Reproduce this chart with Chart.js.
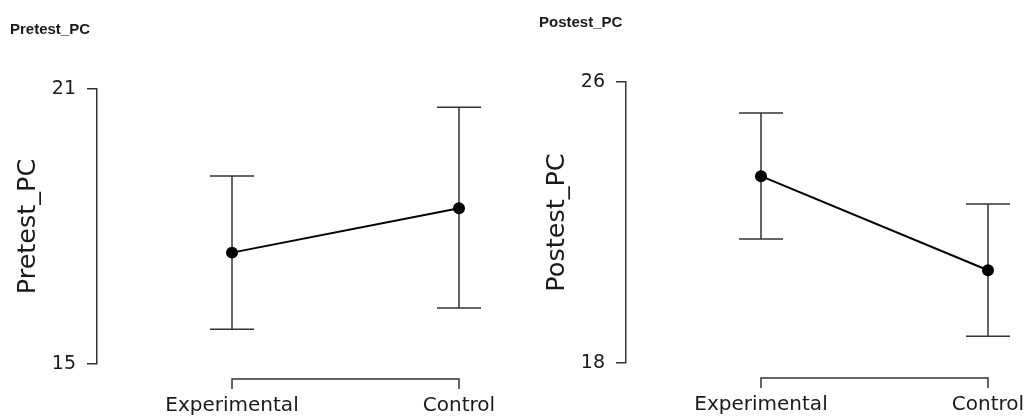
<!DOCTYPE html>
<html>
<head>
<meta charset="utf-8">
<script src="https://cdn.jsdelivr.net/npm/chart.js@4/dist/chart.umd.min.js"></script>
<style>
  html, body { margin: 0; padding: 0; background: #ffffff; }
  #wrap { position: relative; width: 1026px; height: 417px; overflow: hidden; }
  canvas { position: absolute; top: 0; }
  #c1 { left: 0; }
  #c2 { left: 513px; }
</style>
</head>
<body>
<div id="wrap">
  <canvas id="c1" width="513" height="417"></canvas>
  <canvas id="c2" width="513" height="417"></canvas>
</div>
<script>
// ---- data ----
const categories = ["Experimental", "Control"];

const pretestTitle = "Pretest_PC";
const pretestMean  = [17.43, 18.40];
const pretestLower = [15.76, 16.22];
const pretestUpper = [19.10, 20.60];
const pretestTicks = [15, 21];

const postestTitle = "Postest_PC";
const postestMean  = [23.32, 20.64];
const postestLower = [21.53, 18.76];
const postestUpper = [25.12, 22.53];
const postestTicks = [18, 26];

// ---- style ----
const INK = "#1a1a1a";
const AXIS = "#333333";

const errorBarPlugin = {
  id: "errorBars",
  beforeDatasetsDraw(chart, args, opts) {
    const { ctx } = chart;
    const xs = chart.scales.x, ys = chart.scales.y;
    ctx.save();
    ctx.strokeStyle = AXIS;
    ctx.lineWidth = 1.5;
    opts.lower.forEach((lo, i) => {
      const x = xs.getPixelForValue(i);
      const yl = ys.getPixelForValue(lo);
      const yu = ys.getPixelForValue(opts.upper[i]);
      const w = opts.capHalf;
      ctx.beginPath();
      ctx.moveTo(x, yl); ctx.lineTo(x, yu);
      ctx.moveTo(x - w, yl); ctx.lineTo(x + w, yl);
      ctx.moveTo(x - w, yu); ctx.lineTo(x + w, yu);
      ctx.stroke();
    });
    ctx.restore();
  },
  afterDraw(chart, args, opts) {
    // bracket-style x axis between first and last category
    const { ctx, chartArea } = chart;
    const xs = chart.scales.x;
    const x0 = xs.getPixelForValue(0);
    const x1 = xs.getPixelForValue(categories.length - 1);
    const y = chartArea.bottom + 15;
    ctx.save();
    ctx.strokeStyle = AXIS;
    ctx.lineWidth = 1.5;
    ctx.beginPath();
    ctx.moveTo(x0, y + 10); ctx.lineTo(x0, y); ctx.lineTo(x1, y); ctx.lineTo(x1, y + 10);
    ctx.stroke();
    ctx.restore();
  }
};

function makeChart(id, cfg) {
  const pxPerUnit = 227;
  const firstOffset = 135;          // distance from y axis to first category
  const canvasW = 513;
  const padLeft = cfg.padLeft, padRight = 8, yWidth = 87;
  const areaLeft = padLeft + yWidth;
  const areaRight = canvasW - padRight;
  const xMin = -firstOffset / pxPerUnit;
  const xMax = (areaRight - areaLeft - firstOffset) / pxPerUnit;

  return new Chart(document.getElementById(id), {
    type: "line",
    data: {
      datasets: [{
        data: cfg.mean.map((m, i) => ({ x: i, y: m })),
        borderColor: "#000000",
        borderWidth: 2,
        pointRadius: 6,
        pointHoverRadius: 6,
        pointBackgroundColor: "#000000",
        pointBorderColor: "#000000",
        pointBorderWidth: 0,
        tension: 0,
        fill: false
      }]
    },
    options: {
      responsive: false,
      animation: false,
      events: [],
      layout: { padding: { left: padLeft, right: padRight, top: 0, bottom: 0 } },
      plugins: {
        legend: { display: false },
        tooltip: { enabled: false },
        title: {
          display: true,
          text: cfg.title,
          align: "start",
          color: INK,
          font: { family: "Liberation Sans, Arial, sans-serif", weight: "bold", size: 15 },
          padding: { top: cfg.titleTop, bottom: cfg.titleBottom }
        },
        errorBars: { lower: cfg.lower, upper: cfg.upper, capHalf: 22 }
      },
      scales: {
        x: {
          type: "linear",
          min: xMin,
          max: xMax,
          grid: { display: false, drawTicks: false },
          border: { display: false },
          afterBuildTicks: (s) => { s.ticks = categories.map((c, i) => ({ value: i })); },
          afterFit: (s) => { s.height = cfg.xHeight; s.paddingLeft = 0; s.paddingRight = 0; },
          ticks: {
            autoSkip: false,
            maxRotation: 0,
            padding: 30,
            color: INK,
            font: { family: "DejaVu Sans", size: 20 },
            callback: (v) => categories[v]
          }
        },
        y: {
          type: "linear",
          min: cfg.ticks[0],
          max: cfg.ticks[cfg.ticks.length - 1],
          afterBuildTicks: (s) => { s.ticks = cfg.ticks.map(v => ({ value: v })); },
          afterFit: (s) => { s.width = yWidth; },
          grid: { drawOnChartArea: false, drawTicks: true, tickLength: 10, color: AXIS, lineWidth: 1.5 },
          border: { display: true, color: AXIS, width: 1.5 },
          ticks: {
            padding: 11,
            color: INK,
            font: { family: "DejaVu Sans", size: 19 }
          },
          title: {
            display: true,
            text: cfg.title,
            color: INK,
            font: { family: "DejaVu Sans", size: 25.5 },
            padding: { top: 3, bottom: 0 }
          }
        }
      }
    },
    plugins: [errorBarPlugin]
  });
}

makeChart("c1", {
  title: pretestTitle, mean: pretestMean, lower: pretestLower, upper: pretestUpper,
  ticks: pretestTicks, padLeft: 10, titleTop: 20.4, titleBottom: 50.6, xHeight: 53
});
makeChart("c2", {
  title: postestTitle, mean: postestMean, lower: postestLower, upper: postestUpper,
  ticks: postestTicks, padLeft: 26, titleTop: 13.6, titleBottom: 50.4, xHeight: 54
});
</script>
</body>
</html>
